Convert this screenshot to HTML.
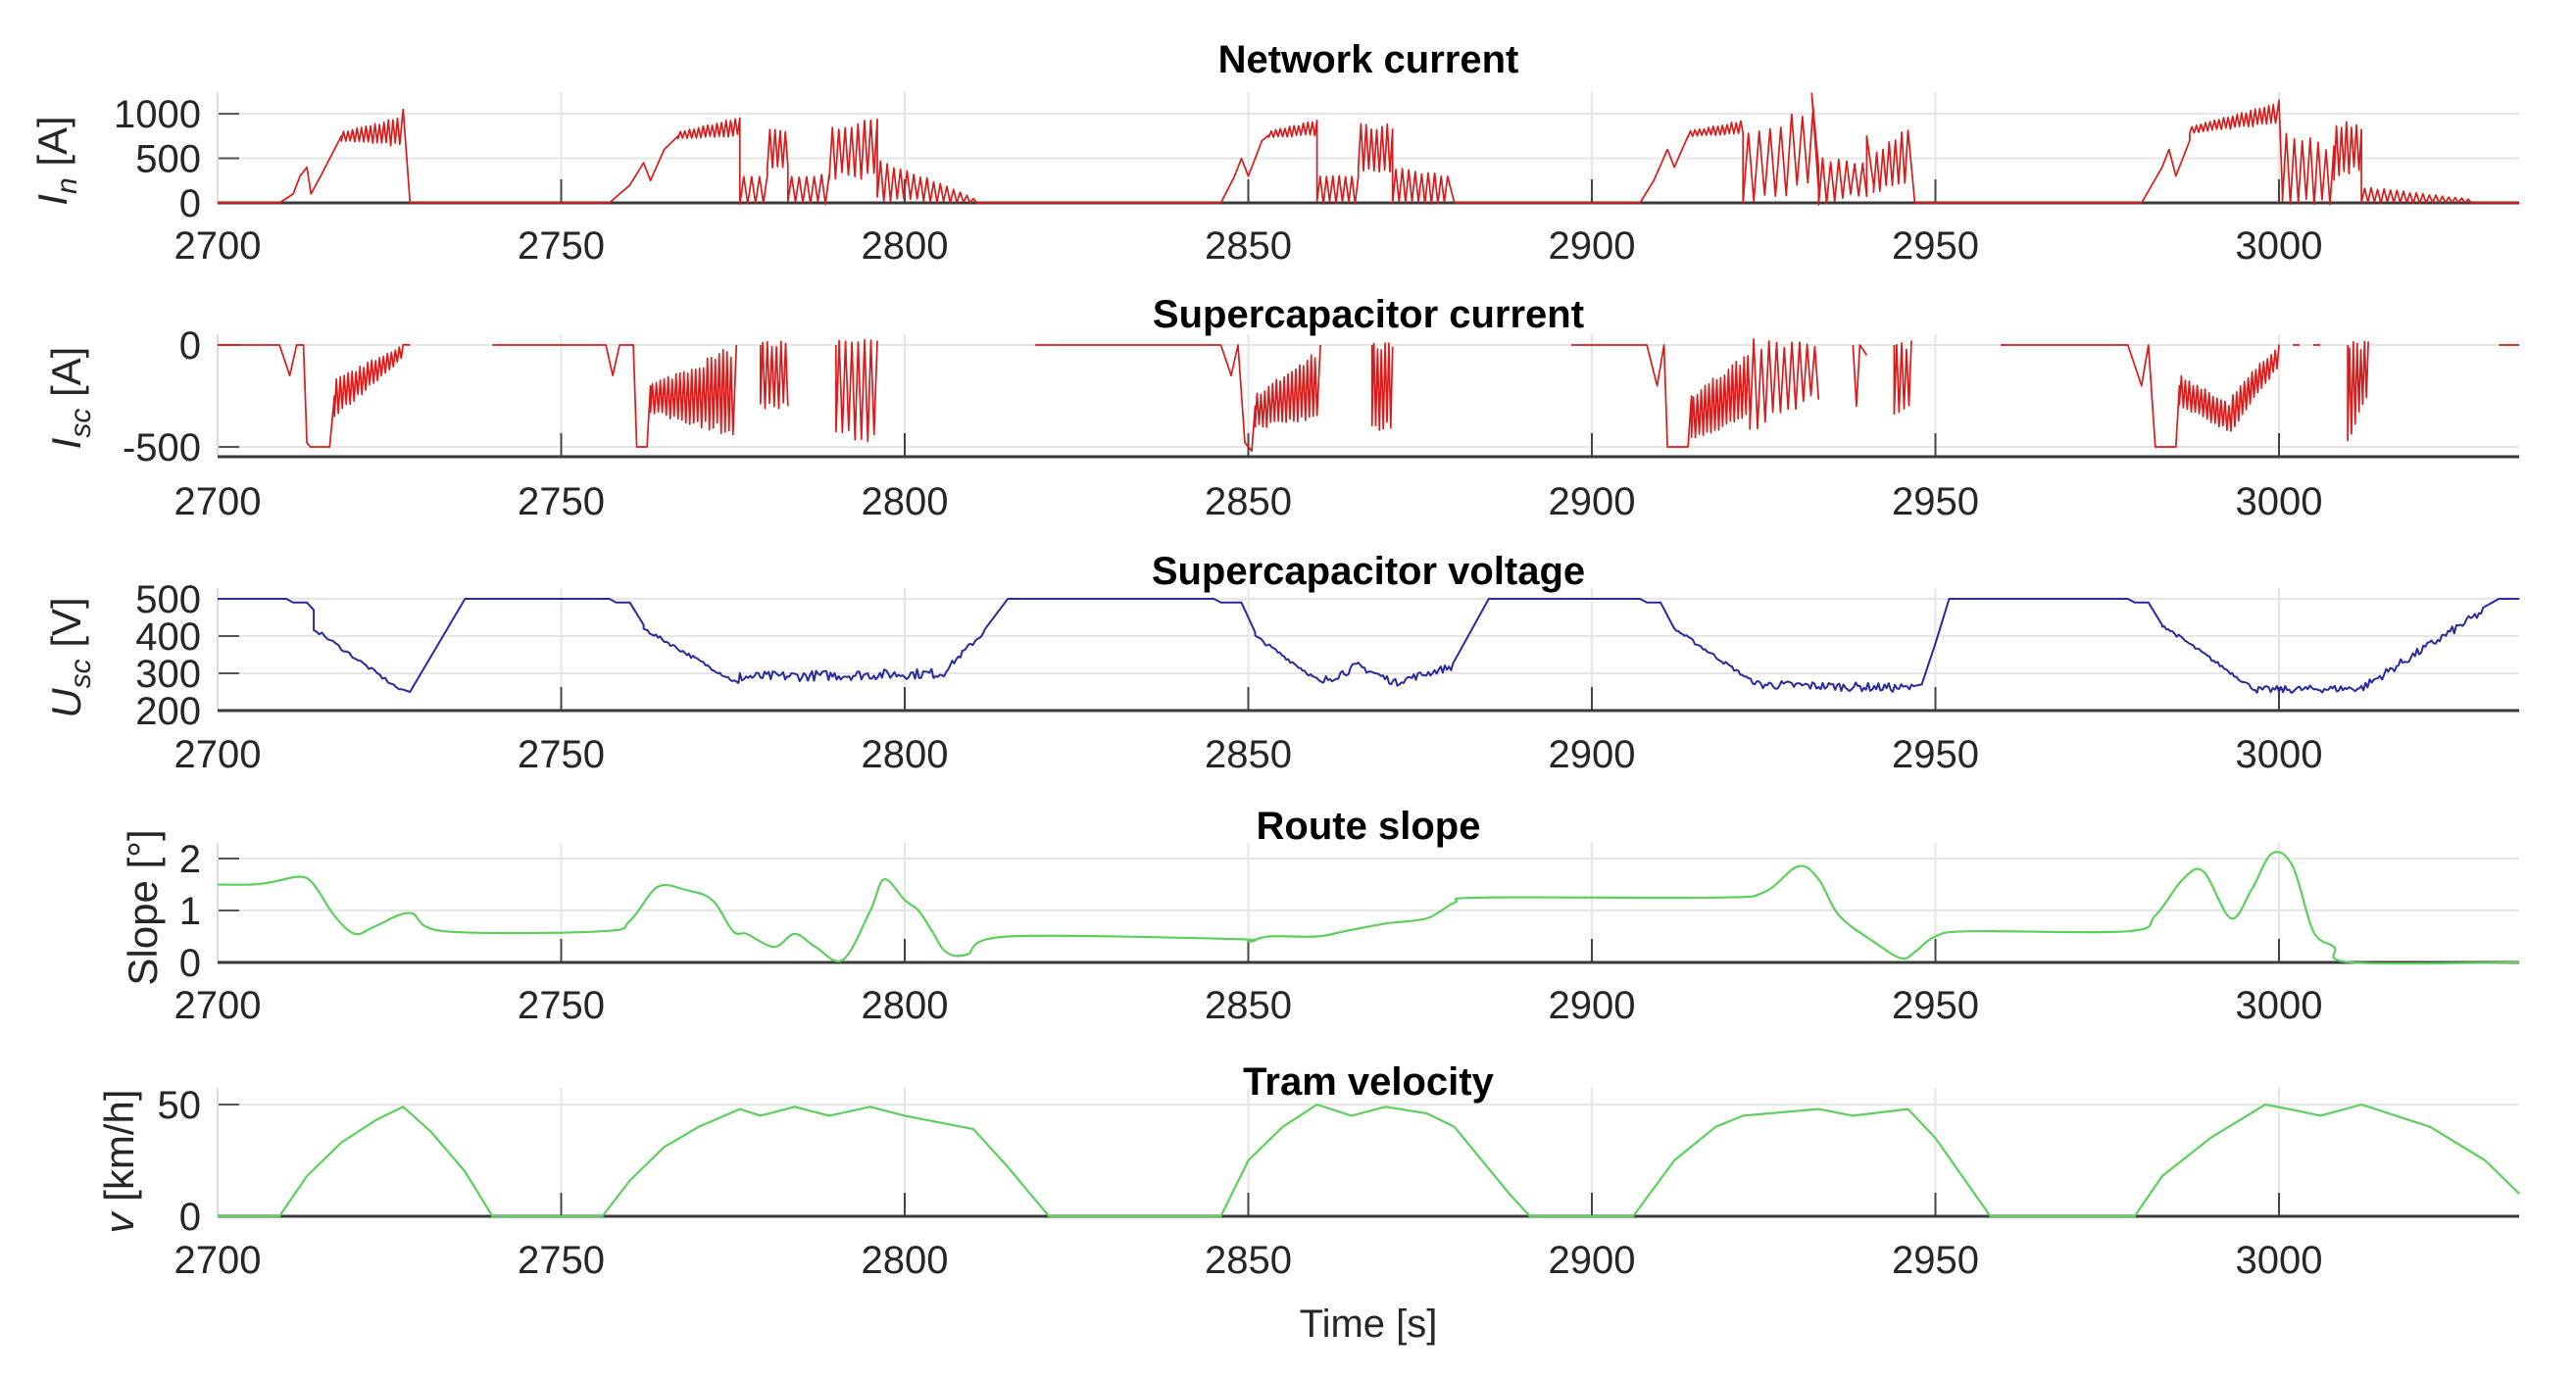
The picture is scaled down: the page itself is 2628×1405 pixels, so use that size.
<!DOCTYPE html>
<html><head><meta charset="utf-8">
<style>
html,body{margin:0;padding:0;background:#fff;}
svg{display:block;}
text{font-family:"Liberation Sans",Arial,sans-serif;}
.tl{font-size:40px;fill:#262626;}
.tt{font-size:40px;font-weight:bold;fill:#000;}
.yl{font-size:42px;fill:#262626;}
</style></head>
<body>
<svg id="s" width="2628" height="1405" viewBox="0 0 2628 1405" xmlns="http://www.w3.org/2000/svg">
<rect width="2628" height="1405" fill="#fff"/>
<g id="axes"></g>
<g id="data"></g>
<text class="tt" x="1396" y="74" text-anchor="middle">Network current</text>
<text class="tt" x="1396" y="334" text-anchor="middle">Supercapacitor current</text>
<text class="tt" x="1396" y="596" text-anchor="middle">Supercapacitor voltage</text>
<text class="tt" x="1396" y="856" text-anchor="middle">Route slope</text>
<text class="tt" x="1396" y="1117" text-anchor="middle">Tram velocity</text>
<text class="yl" transform="translate(68,164) rotate(-90)" text-anchor="middle"><tspan font-style="italic">I</tspan><tspan font-style="italic" font-size="30" dy="10">n</tspan><tspan dy="-10">  [A]</tspan></text>
<text class="yl" transform="translate(82,406) rotate(-90)" text-anchor="middle"><tspan font-style="italic">I</tspan><tspan font-style="italic" font-size="30" dy="10">sc</tspan><tspan dy="-10">  [A]</tspan></text>
<text class="yl" transform="translate(82,671) rotate(-90)" text-anchor="middle"><tspan font-style="italic">U</tspan><tspan font-style="italic" font-size="30" dy="10">sc</tspan><tspan dy="-10">  [V]</tspan></text>
<text class="yl" transform="translate(160,926) rotate(-90)" text-anchor="middle">Slope [°]</text>
<text class="yl" transform="translate(136,1185) rotate(-90)" text-anchor="middle"><tspan font-style="italic">v</tspan> [km/h]</text>
<text class="tl" x="1396" y="1364" text-anchor="middle">Time [s]</text>
</svg>
<script>
var NS="http://www.w3.org/2000/svg";
function X(t){return 222+(t-2700)*7.01;}
var L=222,R=2570;
var panels=[
 {top:94,bot:207,Y:function(v){return 207-v*0.0909;},yt:[[0,"0"],[500,"500"],[1000,"1000"]],lab:250},
 {top:341,bot:466,Y:function(v){return 352-v*0.208;},yt:[[0,"0"],[-500,"-500"]],lab:511},
 {top:600,bot:725,Y:function(v){return 725-(v-200)*0.38;},yt:[[200,"200"],[300,"300"],[400,"400"],[500,"500"]],lab:769},
 {top:860,bot:982,Y:function(v){return 982-v*53;},yt:[[0,"0"],[1,"1"],[2,"2"]],lab:1025},
 {top:1110,bot:1241,Y:function(v){return 1241-v*2.28;},yt:[[0,"0"],[50,"50"]],lab:1285}
];
var ax=document.getElementById('axes'),dg=document.getElementById('data');
function el(n,a,p,txt){var e=document.createElementNS(NS,n);for(var k in a)e.setAttribute(k,a[k]);if(txt!==undefined)e.textContent=txt;(p||ax).appendChild(e);return e;}
var xt=[2700,2750,2800,2850,2900,2950,3000];
panels.forEach(function(p){
 p.yt.forEach(function(y){var yy=p.Y(y[0]);
  if(Math.abs(yy-p.bot)>3) el('line',{x1:L,x2:R,y1:yy,y2:yy,stroke:'#e6e6e6','stroke-width':2});
  el('line',{x1:L,x2:L+22,y1:yy,y2:yy,stroke:'#555','stroke-width':2});
  el('text',{x:205,y:yy+14,'text-anchor':'end','class':'tl'},null,y[1]);
 });
 xt.forEach(function(t){var x=X(t);
  el('line',{x1:x,x2:x,y1:p.top,y2:p.bot,stroke:'#e6e6e6','stroke-width':2});
  el('line',{x1:x,x2:x,y1:p.bot-24,y2:p.bot,stroke:'#444','stroke-width':2});
  el('text',{x:x,y:p.lab+14,'text-anchor':'middle','class':'tl'},null,String(t));
 });
 el('line',{x1:L,x2:L,y1:p.top,y2:p.bot,stroke:'#ddd','stroke-width':2});
 el('line',{x1:L,x2:R,y1:p.bot,y2:p.bot,stroke:'#3a3a3a','stroke-width':3});
});
var seed=7;function rnd(){seed=(seed*16807)%2147483647;return seed/2147483647;}
var PS=1.9;
function zz(arr,t0,t1,per,lo0,lo1,hi0,hi1){per*=PS;var n=Math.max(2,Math.round((t1-t0)/per*2));
 for(var i=0;i<=n;i++){var f=i/n,t=t0+(t1-t0)*f;var lo=lo0+(lo1-lo0)*f,hi=hi0+(hi1-hi0)*f;var j=(rnd()-0.5)*0.15*(hi-lo);arr.push([t,((i%2)?hi:lo)+j]);}}
function noisy(arr,t0,t1,v0,v1,amp,step){for(var t=t0;t<=t1;t+=step){var f=(t-t0)/(t1-t0);arr.push([t,v0+(v1-v0)*f+(rnd()-0.5)*2*amp]);}}
function path(p,segs,col,w){var d='';segs.forEach(function(s){s.forEach(function(q,i){d+=(i?'L':'M')+X(q[0]).toFixed(1)+','+p.Y(q[1]).toFixed(1);});});
 el('path',{d:d,fill:'none',stroke:col,'stroke-width':w,'stroke-linejoin':'round'},dg);}
function smooth(p,k,col,w){var P=k.map(function(q){return [X(q[0]),p.Y(q[1])];});var d='M'+P[0][0]+','+P[0][1];
 for(var i=0;i<P.length-1;i++){var p0=P[Math.max(0,i-1)],p1=P[i],p2=P[i+1],p3=P[Math.min(P.length-1,i+2)];
  var c1x=p1[0]+(p2[0]-p0[0])/6,c1y=p1[1]+(p2[1]-p0[1])/6,c2x=p2[0]-(p3[0]-p1[0])/6,c2y=p2[1]-(p3[1]-p1[1])/6;
  d+='C'+c1x.toFixed(1)+','+c1y.toFixed(1)+' '+c2x.toFixed(1)+','+c2y.toFixed(1)+' '+p2[0].toFixed(1)+','+p2[1].toFixed(1);}
 el('path',{d:d,fill:'none',stroke:col,'stroke-width':w},dg);}
// Panel 1
(function(){var a=[[2700,0],[2709,0],[2711,100],[2712,300],[2713,400],[2713.6,100],[2715,300],[2717,600],[2718,750]];
 zz(a,2718,2726.5,0.35,700,650,790,950);a.push([2727,1050],[2728,0],[2757,0],[2760,200],[2762,450],[2763,250],[2765,600],[2767,750]);
 zz(a,2767,2776,0.35,720,760,790,950);a.push([2776,50]);zz(a,2776,2780,0.6,0,0,300,300);zz(a,2780,2783,0.4,400,400,800,800);
 zz(a,2783,2789,0.6,0,0,300,300);zz(a,2789,2796,0.5,300,300,850,900);zz(a,2796,2810,0.5,50,0,500,50);a.push([2810.5,0]);
 a.push([2846,0],[2848,300],[2849,500],[2850,300],[2852,700],[2853,760]);zz(a,2853,2860,0.35,740,760,800,920);a.push([2860,50]);
 zz(a,2860,2866,0.5,0,0,300,300);zz(a,2866,2871,0.4,350,350,850,850);zz(a,2871,2879,0.5,0,0,400,300);a.push([2880,0],[2907,0],[2909,250],[2911,600],[2912,400],[2914,750]);
 zz(a,2914,2922,0.35,740,790,800,920);a.push([2922,50]);zz(a,2922,2933,0.8,0,200,700,1100);a.push([2932,1230],[2933,400]);zz(a,2933,2940,0.6,0,100,500,450);
 a.push([2940,750],[2941,200]);zz(a,2941,2946,0.5,150,200,550,800);a.push([2947,0],[2980,0],[2983,400],[2984,600],[2985,300],[2987,700]);
 zz(a,2987,2999.5,0.35,780,900,850,1100);a.push([3000,1150],[3000.5,100]);zz(a,3000.5,3008,0.6,0,0,800,600);zz(a,3008,3012,0.4,300,400,900,850);
 zz(a,3012,3028,0.5,0,0,180,40);a.push([3028,0],[3035,0]);path(panels[0],[a],'#d81b1b',1.7);})();
// Panel 2
(function(){var s=[],a=[[2700,0],[2709,0],[2710.5,-150],[2711.5,0],[2712.5,0],[2713,-480],[2713.5,-500],[2716.3,-500],[2717,-250]];
 zz(a,2717,2727,0.3,-350,-60,-180,0);a.push([2728,0]);s.push(a);
 a=[[2740,0],[2756.5,0],[2757.5,-150],[2758.5,0],[2760.5,0],[2761,-500],[2762.5,-500],[2763,-200]];zz(a,2763,2775,0.3,-330,-420,-200,-30);a.push([2775.5,0]);s.push(a);
 a=[[2779,0]];zz(a,2779,2783,0.35,-300,-300,0,0);s.push(a);a=[[2790,0]];zz(a,2790,2796,0.5,-450,-450,0,0);s.push(a);
 a=[[2819,0],[2846,0],[2847.5,-150],[2848.5,0],[2849.5,-480],[2850.5,-520],[2851,-300]];zz(a,2851,2860,0.3,-400,-350,-250,-50);a.push([2860.5,0]);s.push(a);
 a=[[2868,0]];zz(a,2868,2871,0.3,-400,-400,0,0);s.push(a);
 a=[[2897,0],[2908,0],[2909.5,-200],[2910.5,0],[2911,-500],[2914,-500],[2914.5,-250]];zz(a,2914.5,2923,0.3,-450,-350,-250,-50);zz(a,2923,2933,0.6,-400,-250,0,0);s.push(a);
 a=[[2938,0],[2938.5,-300],[2939,0],[2940,-50]];s.push(a);a=[[2944,0]];zz(a,2944,2946.5,0.4,-350,-300,0,0);s.push(a);
 a=[[2959.5,0],[2978,0],[2980,-200],[2981,0],[2982,-500],[2985,-500],[2985.5,-200]];zz(a,2985.5,2993,0.3,-300,-420,-150,-300);zz(a,2993,3000,0.3,-420,-100,-250,0);s.push(a);
 a=[[3002,0],[3003,0]];s.push(a);a=[[3005,0],[3006,0]];s.push(a);a=[[3010,0]];zz(a,3010,3013,0.3,-450,-250,0,0);s.push(a);a=[[3032,0],[3035,0]];s.push(a);
 path(panels[1],s,'#d81b1b',1.7);})();
// Panel 3
(function(){var a=[[2700,500],[2710,500],[2711,490],[2713,490],[2714,470]];noisy(a,2714,2727,420,250,5,0.4);a.push([2728,250],[2736,500],[2757,500],[2758,490],[2760,490],[2762,430]);
 noisy(a,2762,2776,420,270,5,0.3);noisy(a,2776,2806,290,300,14,0.3);noisy(a,2806,2812,310,420,8,0.3);a.push([2815,500],[2845,500],[2846,490],[2849,490],[2851,410]);
 noisy(a,2851,2861,400,270,5,0.3);noisy(a,2861,2866,280,320,12,0.3);noisy(a,2866,2872,320,270,10,0.3);noisy(a,2872,2880,280,320,10,0.3);a.push([2885,500],[2907,500],[2908,490],[2910,490],[2912,420]);
 noisy(a,2912,2924,420,270,5,0.3);noisy(a,2924,2947,270,260,12,0.3);a.push([2948,270],[2950,380],[2952,500],[2978,500],[2979,490],[2981,490],[2983,430]);
 noisy(a,2983,2997,430,250,5,0.3);noisy(a,2997,3012,255,260,10,0.3);noisy(a,3012,3030,260,470,12,0.3);a.push([3032,500],[3035,500]);
 path(panels[2],[a],'#2a2aa0',2);})();
// Panel 4
(function(){var k=[[2700,1.5],[2705,1.5],[2708,1.55],[2712,1.65],[2714,1.5],[2717,0.9],[2720,0.55],[2723,0.7],[2728,0.95],[2733,0.6],[2756,0.6],[2760,0.8],[2764,1.45],[2768,1.4],[2772,1.2],[2775,0.6],[2777,0.55],[2781,0.3],[2784,0.55],[2787,0.3],[2791,0.05],[2795,1.0],[2797,1.6],[2800,1.2],[2802,1.0],[2804,0.6],[2806,0.2],[2809,0.15],[2815,0.5],[2848,0.45],[2850,0.4],[2853,0.5],[2860,0.5],[2864,0.6],[2870,0.75],[2876,0.85],[2880,1.15],[2884,1.25],[2918,1.25],[2925,1.35],[2930,1.85],[2933,1.6],[2936,0.9],[2941,0.4],[2945,0.08],[2947,0.2],[2950,0.5],[2955,0.6],[2978,0.6],[2982,0.9],[2986,1.6],[2989,1.75],[2993,0.85],[2996,1.4],[2999,2.1],[3002,1.85],[3005,0.6],[3008,0.3],[3010.5,0.0],[3035,0]];
 smooth(panels[3],k,'#5ccf5c',2.2);})();
// Panel 5
(function(){var k=[[2700,0],[2709,0],[2713,18],[2718,33],[2723,43],[2727,49],[2731,38],[2736,20],[2740,0],[2756,0],[2760,16],[2765,31],[2770,40],[2776,48],[2779,45],[2784,49],[2789,45],[2795,49],[2800,45],[2810,39],[2815,22],[2821,0],[2846,0],[2850,25],[2855,40],[2860,50],[2865,45],[2870,49],[2876,46],[2880,40],[2888,10],[2891,0],[2906,0],[2912,25],[2918,40],[2922,45],[2933,48],[2938,45],[2946,48],[2950,35],[2958,0],[2979,0],[2983,18],[2990,35],[2998,50],[3003,47],[3006,45],[3012,50],[3022,40],[3030,25],[3035,10]];
 path(panels[4],[k],'#5ccf5c',2.2);})();
</script>
</body></html>
